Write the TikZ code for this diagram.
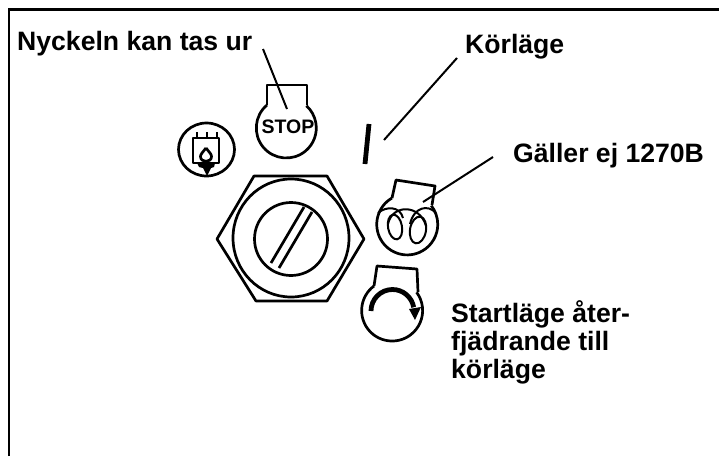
\documentclass[tikz,border=0pt]{standalone}
\usepackage{fontspec}
\setmainfont{Liberation Sans}
\tikzset{
    symline/.style={line width=2.7pt, line join=round},
    thinline/.style={line width=2pt, line join=round},
    leaderline/.style={line width=2pt},
    labeltext/.style={font=\fontsize{26.6pt}{28pt}\selectfont\bfseries, anchor=base west, align=left, inner sep=0pt}
}

\begin{document}
\begin{tikzpicture}[x=1pt, y=-1pt]
    \useasboundingbox (0, 0) rectangle (719, 456);

    % Frame
    \draw[line width=2.6pt] (8.8, 456) -- (8.8, 9.2) -- (719, 9.2);

    % Labels
    \node[labeltext] (keylabel) at (17, 50) {Nyckeln kan tas ur};
    \node[labeltext] (runlabel) at (465, 53) {Körläge};
    \node[labeltext] (notlabel) at (513, 162) {Gäller ej 1270B};
    \node[labeltext] (startlabel) at (451, 378) {Startläge åter-\\fjädrande till\\körläge};

    % Leader lines
    \coordinate (keyfrom) at (263, 49);
    \coordinate (keyto) at (287, 109);
    \coordinate (runfrom) at (457, 58);
    \coordinate (runto) at (384, 140);
    \coordinate (notfrom) at (493, 157);
    \coordinate (notto) at (423, 202);
    \draw[leaderline] (keyfrom) -- (keyto);
    \draw[leaderline] (runfrom) -- (runto);
    \draw[leaderline] (notfrom) -- (notto);

    % Stop symbol
    \draw[symline] (267, 105) -- (267, 85) -- (307, 85) -- (307, 105);
    \draw[symline] (267, 105) arc[start angle=230, end angle=-48, radius=30];
    \node[font=\fontsize{19.5pt}{20pt}\selectfont\bfseries, inner sep=0pt] (stoptext) at (288, 127) {STOP};

    % Fuel symbol
    \draw[symline] (206.5, 149.5) ellipse[x radius=28, y radius=26.5];
    \draw[symline] (193, 163) -- (193, 138) -- (219, 138) -- (219, 163) -- cycle;
    \draw[symline] (197, 138) -- (197, 132) (207, 138) -- (207, 132) (217, 138) -- (217, 132);
    \fill (197, 163) -- (215, 163) -- (214, 167) -- (211, 168) -- (207, 176) -- (203, 168) -- (199, 167) -- cycle;
    \draw[symline] (206, 148) .. controls (209, 152) and (211.5, 154) .. (211.5, 156.5)
        .. controls (211.5, 163) and (200.5, 163) .. (200.5, 156.5)
        .. controls (200.5, 154) and (203, 152) .. (206, 148);

    % Nut and screw
    \draw[symline] (254, 176) -- (327, 176) -- (364, 239) -- (327, 301) -- (256, 301) -- (217, 239) -- cycle;
    \draw[symline] (291, 238) ellipse[x radius=58, y radius=59];
    \draw[symline] (291, 239) circle[radius=36.5];
    \draw[symline] (304, 207) -- (271, 263);
    \draw[symline] (312, 212) -- (279, 268);

    % Run mark
    \draw[line width=4.8pt] (369, 124) -- (365, 164);

    % Lamp symbol
    \draw[symline] (392, 198) -- (396, 180) -- (435, 186) -- (432, 205);
    \draw[symline] (392, 198) arc[start angle=240, end angle=-38, radius=30.5];
    \draw[thinline] (378, 213) .. controls (386, 206) and (400, 206) .. (403, 218);
    \draw[thinline] (388, 224) .. controls (392, 204) and (420, 204) .. (426, 226);
    \draw[thinline] (410, 224) .. controls (414, 207) and (428, 204) .. (436, 213);
    \draw[thinline, rotate around={10:(395, 227)}] (395, 227) ellipse[x radius=7, y radius=12.5];
    \draw[thinline, rotate around={-10:(418, 230)}] (418, 230) ellipse[x radius=8, y radius=13.5];

    % Start symbol
    \draw[symline] (374, 286) -- (377, 266) -- (417, 269) -- (418, 292);
    \draw[symline] (374, 286) arc[start angle=233.5, end angle=-36.7, radius=30.5];
    \draw[line width=4.8pt] (371, 311) arc[start angle=180, end angle=350, radius=21.5];
    \fill (409, 309) -- (421, 307) -- (415, 320) -- cycle;
\end{tikzpicture}
\end{document}
